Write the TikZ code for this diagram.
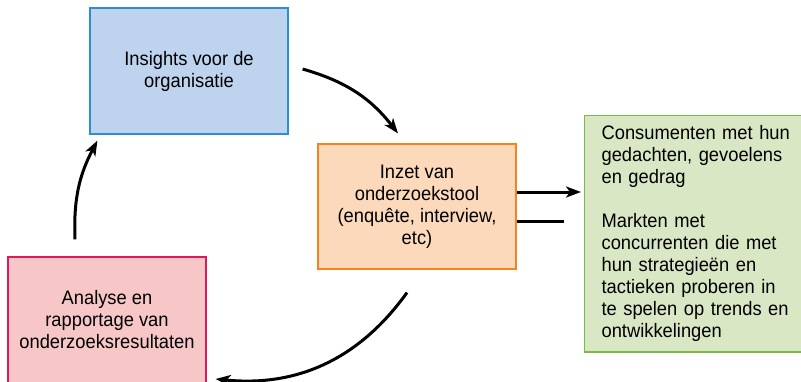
\documentclass[tikz,border=0pt]{standalone}
\usepackage{fontspec}
\setmainfont{Liberation Sans}[FakeStretch=0.94]
\usepackage{xcolor}
\usepackage{tikz}
\usetikzlibrary{arrows.meta, positioning, calc}
\definecolor{insightblue}{RGB}{189, 211, 238}
\definecolor{insightedge}{RGB}{46, 139, 214}
\definecolor{toolorange}{RGB}{252, 217, 186}
\definecolor{tooledge}{RGB}{245, 132, 31}
\definecolor{marketgreen}{RGB}{217, 231, 197}
\definecolor{marketedge}{RGB}{125, 184, 74}
\definecolor{analysered}{RGB}{247, 198, 198}
\definecolor{analyseedge}{RGB}{224, 25, 90}

\begin{document}
\begin{tikzpicture}[x=1pt, y=1pt,
    box/.style={draw, line width=1.2pt, align=center,
                minimum width=198pt, minimum height=126pt,
                font=\fontsize{19.5}{22}\selectfont},
    flow/.style={line width=3pt, -{Stealth[length=15pt, width=11pt, inset=4pt]}}]
    \useasboundingbox (0,0) rectangle (801,381);
    % Cycle boxes
    \node[box, fill=insightblue, draw=insightedge] (insights) at (189,310)
        {Insights voor de\\organisatie};
    \node[box, fill=toolorange, draw=tooledge, minimum height=125pt] (inzet) at (417,174.5)
        {Inzet van\\onderzoekstool\\(enquête, interview,\\etc)};
    \node[box, fill=analysered, draw=analyseedge] (analyse) at (107,61)
        {Analyse en\\rapportage van\\onderzoeksresultaten};
    % Context box (cut by the right edge)
    \node[box, fill=marketgreen, draw=marketedge, align=left, anchor=west,
          text width=190pt, inner xsep=17pt, minimum height=236.5pt]
        (markten) at (584,147.25)
        {Consumenten met hun\\gedachten, gevoelens\\en gedrag\\[22pt]Markten met\\concurrenten die met\\hun strategieën en\\tactieken proberen in\\te spelen op trends en\\ontwikkelingen};
    % Cycle arrows
    \draw[flow] ([xshift=14pt, yshift=2pt]insights.east)
        to[bend left=18] ([xshift=-19pt, yshift=10pt]inzet.north);
    \draw[flow] ([xshift=-10pt, yshift=-23pt]inzet.south)
        to[bend left=30] ([xshift=9pt, yshift=-59pt]analyse.east);
    \draw[flow] ([xshift=-32pt, yshift=17pt]analyse.north)
        to[bend left=15] ([xshift=8pt, yshift=-6pt]insights.south west);
    % Tool to context
    \draw[flow] ([yshift=14.5pt]inzet.east) -- ([xshift=-3pt, yshift=41.75pt]markten.west);
    \draw[line width=3pt] ([yshift=-14.5pt]inzet.east) -- ([xshift=-20pt, yshift=12.75pt]markten.west);
\end{tikzpicture}
\end{document}
